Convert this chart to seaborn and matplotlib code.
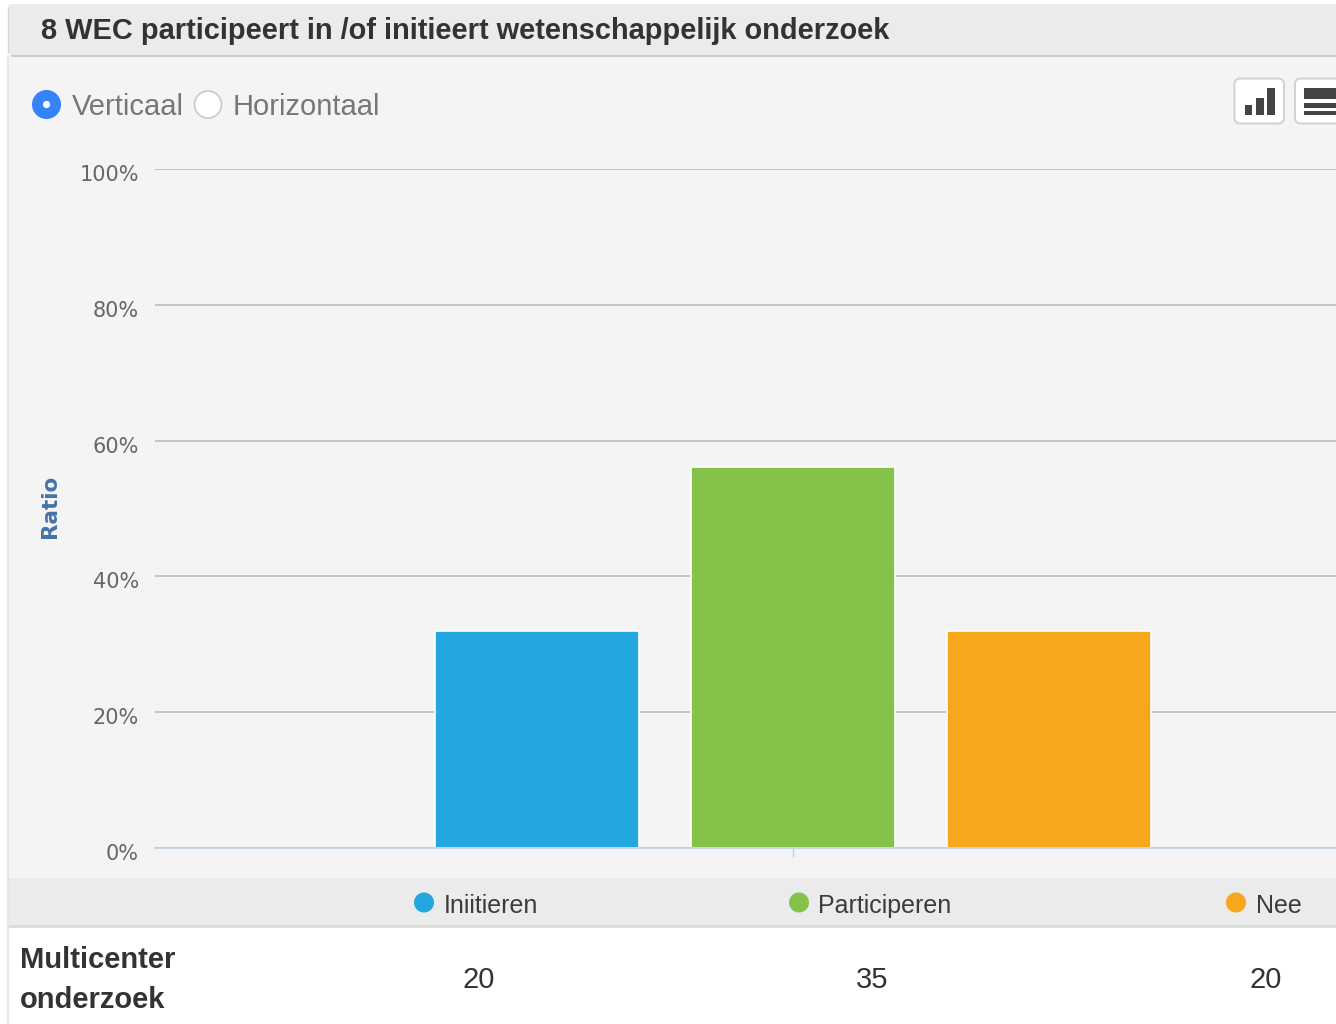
import matplotlib
matplotlib.use("Agg")
import matplotlib.pyplot as plt
import matplotlib.transforms as mtrans
from matplotlib.patches import FancyBboxPatch, Rectangle, Circle
import pandas as pd
import seaborn as sns

# data
categories = ["Iniitieren", "Participeren", "Nee"]
ratio = [32.0, 56.1, 32.0]
counts = [20, 35, 20]
colors = ["#22a7e1", "#85c24a", "#f8a71c"]
y_ticks = [0, 20, 40, 60, 80, 100]
title = "8 WEC participeert in /of initieert wetenschappelijk onderzoek"
row_label = "Multicenter\nonderzoek"
radio_labels = ["Verticaal", "Horizontaal"]

W, H = 1336, 1024
sans = "Liberation Sans"

sns.set_theme(style="white")
fig = plt.figure(figsize=(W / 100, H / 100), dpi=100, facecolor="white")

# --------------------------- page around the chart (pixel coordinates) ---------------------------
bg = fig.add_axes([0, 0, 1, 1], zorder=0)
bg.set_xlim(0, W)
bg.set_ylim(H, 0)
bg.axis("off")

bg.add_patch(Rectangle((8, 56), W, 822, fc="#f4f4f4", ec="none"))
bg.add_patch(FancyBboxPatch((8, 4), W + 20, 52, boxstyle="round,pad=0,rounding_size=4",
                            fc="#ebebeb", ec="none"))
bg.plot([12, W], [56, 56], color="#c8c8c8", lw=1.3)
bg.plot([8, 8], [8, 52], color="#d4d4d4", lw=1.0)
bg.add_patch(Rectangle((8, 878), W, 47, fc="#ebebeb", ec="none"))
bg.add_patch(Rectangle((8, 925), W, 3, fc="#dcdcdc", ec="none"))
bg.plot([8, 8], [56, 1024], color="#e4e4e4", lw=1.2)

bg.text(41, 39, title, fontsize=20.9, fontweight="bold", color="#333333", family=sans)

# radio buttons
bg.add_patch(Circle((46.5, 104.5), 14.5, fc="#3583f6", ec="none"))
bg.add_patch(Circle((46.5, 104.5), 3.6, fc="white", ec="none"))
bg.add_patch(Circle((208, 104.5), 13.5, fc="white", ec="#c8c8c8", lw=1.2))
bg.text(72, 115, radio_labels[0], fontsize=21, color="#777777", family=sans)
bg.text(233, 115, radio_labels[1], fontsize=21, color="#777777", family=sans)

# chart type buttons
for bx in [1234.5, 1295]:
    bg.add_patch(FancyBboxPatch((bx, 78.5), 49.5, 45, boxstyle="round,pad=0,rounding_size=6",
                                fc="white", ec="#d2d2d2", lw=1.4))
for bx, by in [(1244.5, 104.5), (1256, 98), (1267, 88)]:
    bg.add_patch(Rectangle((bx, by), 7.5, 114.5 - by, fc="#444444", ec="none"))
for by, bh in [(88, 11), (103, 4.5), (110.5, 4.5)]:
    bg.add_patch(Rectangle((1304, by), W - 1304, bh, fc="#444444", ec="none"))

# --------------------------- bars ---------------------------
df = pd.DataFrame({"category": categories, "ratio": ratio})
ax = fig.add_axes([155 / W, 1 - 848 / H, (W - 155) / W, 679 / H], zorder=1)
ax.patch.set_alpha(0)
sns.barplot(data=df, x="category", y="ratio", hue="category", palette=colors, order=categories,
            hue_order=categories, dodge=False, width=0.8, saturation=1, legend=False,
            edgecolor="white", linewidth=1.2, ax=ax, zorder=3)

ax.set_xlim(-1.492, 3.121)
ax.set_ylim(0, 100)
ax.set_xticks([1])
ax.set_xticklabels([""])
ax.set_yticks(y_ticks)
ax.set_yticklabels([f"{v}%" for v in y_ticks], fontsize=15, color="#666666", family="DejaVu Sans")
ax.set_xlabel("")
ax.set_ylabel("")
ax.grid(axis="y", color="#bdbdbd", lw=1.2, zorder=0)
ax.set_axisbelow(True)
ax.tick_params(axis="y", length=0, pad=11.5)
ax.tick_params(axis="x", bottom=True, length=6.5, width=1, color="#c0d0e0", pad=0)
sns.despine(ax=ax, left=True, right=True, top=True)
ax.spines["bottom"].set_color("#c0d0e0")
ax.spines["bottom"].set_linewidth(1.2)
ax.spines["bottom"].set_zorder(4)

shift = mtrans.ScaledTranslation(0, -4 / 100, fig.dpi_scale_trans)
for lab in ax.get_yticklabels():
    lab.set_transform(lab.get_transform() + shift)

bg.text(50, 506, "Ratio", rotation=90, fontsize=15.5, fontweight="bold", color="#4572a7",
        family="DejaVu Sans", ha="center", va="center")

# --------------------------- legend strip and table row ---------------------------
legend_x = [424, 799, 1236]
count_x = [478.5, 872.5, 1265.5]
for name, col, lx, cx, n in zip(categories, colors, legend_x, count_x, counts):
    bg.add_patch(Circle((lx, 902.5), 10, fc=col, ec="none"))
    bg.text(lx + 19.5, 913, name, fontsize=18, color="#3c3c3c", family=sans)
    bg.text(cx, 988, str(n), fontsize=21, color="#333333", family=sans, ha="center")

line1, line2 = row_label.split("\n")
bg.text(20, 968, line1, fontsize=21, fontweight="bold", color="#333333", family=sans)
bg.text(20, 1008, line2, fontsize=21, fontweight="bold", color="#333333", family=sans)

fig.savefig("out.png", dpi=100)
